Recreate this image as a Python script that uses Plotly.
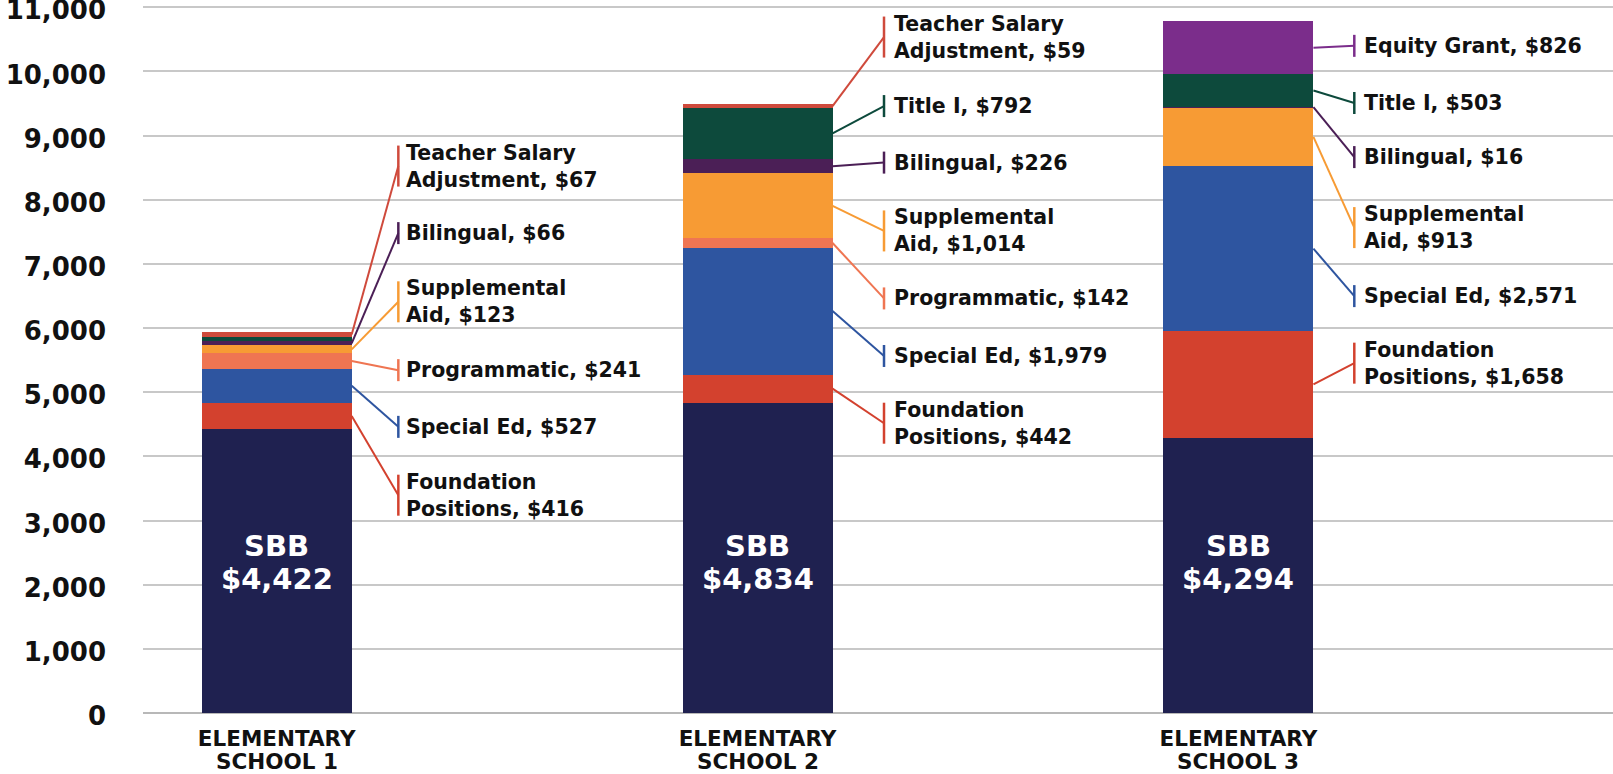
import plotly.graph_objects as go

# ---------------- data ----------------
schools = ["ELEMENTARY SCHOOL 1", "ELEMENTARY SCHOOL 2", "ELEMENTARY SCHOOL 3"]
categories = ["SBB", "Foundation Positions", "Special Ed", "Programmatic",
              "Supplemental Aid", "Bilingual", "Title I",
              "Teacher Salary Adjustment", "Equity Grant"]
sbb = [4422, 4834, 4294]
foundation = [416, 442, 1658]
special_ed = [527, 1979, 2571]
programmatic = [241, 142, 0]
supplemental = [123, 1014, 913]
bilingual = [66, 226, 16]
title_i = [70, 792, 503]
teacher_salary = [67, 59, 0]
equity_grant = [0, 0, 826]
y_ticks = list(range(0, 11001, 1000))

# ---------------- styling / layout ----------------
series = [sbb, foundation, special_ed, programmatic, supplemental,
          bilingual, title_i, teacher_salary, equity_grant]
colors = ["#1f2150", "#d3412e", "#2e55a0", "#ef7552", "#f79b34",
          "#4b1f56", "#0d4a3c", "#cf4a3c", "#7b2d8b"]
label_names = {
    "Foundation Positions": "Foundation<br>Positions",
    "Supplemental Aid": "Supplemental<br>Aid",
    "Teacher Salary Adjustment": "Teacher Salary<br>Adjustment",
}
two_line = set(label_names)

# label vertical centres (data units), per school
label_y = {
    0: {"Foundation Positions": 3395, "Special Ed": 4460, "Programmatic": 5344,
        "Supplemental Aid": 6409, "Bilingual": 7480, "Teacher Salary Adjustment": 8525},
    1: {"Foundation Positions": 4517, "Special Ed": 5565, "Programmatic": 6462,
        "Supplemental Aid": 7514, "Bilingual": 8579, "Title I": 9460,
        "Teacher Salary Adjustment": 10536},
    2: {"Foundation Positions": 5453, "Special Ed": 6498, "Supplemental Aid": 7566,
        "Bilingual": 8665, "Title I": 9508, "Equity Grant": 10399},
}
tick_dx = [0.253, 0.263, 0.241]
text_gap = [0.011, 0.016, 0.016]
bar_w = 0.312
px_per_unit_y = 707 / 11020.0

FONT = "DejaVu Sans"
xs = list(range(len(schools)))
first_line = [s.rsplit(" ", 2)[0] for s in schools]
second_line = [" ".join(s.rsplit(" ", 2)[1:]) for s in schools]

fig = go.Figure()
for name, vals, col in zip(categories, series, colors):
    fig.add_trace(go.Bar(x=xs, y=vals, name=name, width=bar_w,
                         marker=dict(color=col, line=dict(width=0)),
                         hoverinfo="name+y"))

shapes = []
annotations = []
for i in xs:
    base = 0.0
    for name, vals, col in zip(categories, series, colors):
        v = vals[i]
        bottom, top = base, base + v
        base = top
        if v == 0 or name == "SBB":
            continue
        ly = label_y[i].get(name)
        if ly is None:
            continue
        mid = (bottom + top) / 2
        tx = i + tick_dx[i]
        shapes.append(dict(type="line", xref="x", yref="y",
                           x0=i + bar_w / 2, y0=mid, x1=tx, y1=ly,
                           line=dict(color=col, width=2)))
        half = (20.5 if name in two_line else 11) / px_per_unit_y
        shapes.append(dict(type="line", xref="x", yref="y",
                           x0=tx, y0=ly - half, x1=tx, y1=ly + half,
                           line=dict(color=col, width=2.5)))
        annotations.append(dict(
            x=tx + text_gap[i], y=ly, xref="x", yref="y",
            text=f"{label_names.get(name, name)}, ${v:,}",
            showarrow=False, xanchor="left", yanchor="middle", align="left",
            font=dict(family=FONT, size=20.5, color="#111111", weight="bold")))
    # SBB label inside bar
    annotations.append(dict(x=i, y=2610, xref="x", yref="y", text="SBB",
                            showarrow=False, xanchor="center", yanchor="middle",
                            font=dict(family=FONT, size=29, color="white", weight="bold")))
    annotations.append(dict(x=i, y=2095, xref="x", yref="y", text=f"${sbb[i]:,}",
                            showarrow=False, xanchor="center", yanchor="middle",
                            font=dict(family=FONT, size=29, color="white", weight="bold")))
    # second line of category label
    annotations.append(dict(x=i, y=0, xref="x", yref="y", text=second_line[i],
                            showarrow=False, xanchor="center", yanchor="middle",
                            yshift=-48,
                            font=dict(family=FONT, size=21.5, color="#111111", weight="bold")))

fig.update_layout(
    barmode="stack",
    width=1613, height=774,
    margin=dict(l=143, r=0, t=6, b=61, autoexpand=False),
    plot_bgcolor="white", paper_bgcolor="white",
    showlegend=False,
    shapes=shapes,
    annotations=annotations,
    xaxis=dict(range=[-0.278, 2.779], tickvals=xs, ticktext=first_line,
               showgrid=False, zeroline=False, showline=False, ticks="",
               ticklabelstandoff=10, automargin=False,
               tickfont=dict(family=FONT, size=21.5, color="#111111", weight="bold")),
    yaxis=dict(range=[0, 11020], tickvals=y_ticks, tickformat=",",
               showgrid=True, gridcolor="#c8c8c8", gridwidth=1.5,
               zeroline=True, zerolinecolor="#b8b8b8", zerolinewidth=1.5,
               showline=False, ticks="", ticklabelstandoff=36,
               ticklabelshift=3,
               ticklabeloverflow="allow", automargin=False,
               tickfont=dict(family=FONT, size=26, color="#111111", weight="bold")),
)

fig.write_html("out.html",
               config={"displayModeBar": False},
               post_script="document.body.style.margin='0';document.body.style.overflow='hidden';")
